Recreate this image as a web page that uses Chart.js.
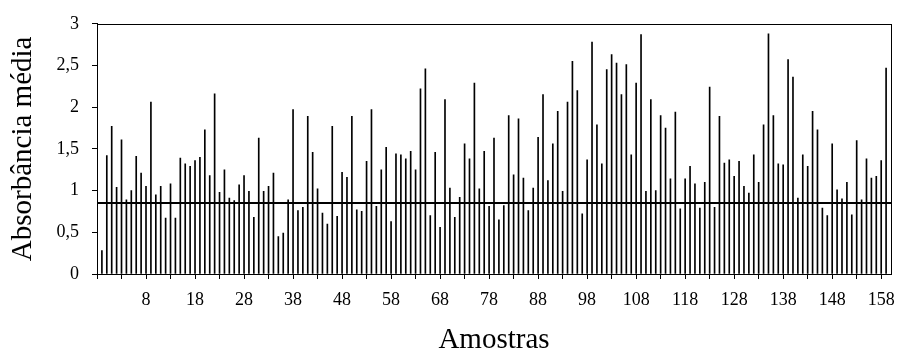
<!DOCTYPE html>
<html lang="pt">
<head>
<meta charset="utf-8">
<title>Absorbância média por amostra</title>
<script src="https://cdn.jsdelivr.net/npm/chart.js@4.4.0/dist/chart.umd.min.js"></script>
<style>
    html, body { margin: 0; padding: 0; background: #fff; }
    #grafico { display: block; }
</style>
</head>
<body>
<canvas id="grafico" width="899" height="355"></canvas>
<script>
// amostras numeradas de -1 a 159 (rótulo = posição no eixo)
const amostras = Array.from({ length: 161 }, (_, i) => i - 1);

const absorbancia = [
    0.28, 1.42, 1.77, 1.04, 1.61, 0.89, 1.00, 1.41, 1.21, 1.05,
    2.06, 0.95, 1.05, 0.67, 1.08, 0.67, 1.39, 1.32, 1.29, 1.36,
    1.40, 1.73, 1.18, 2.16, 0.98, 1.25, 0.91, 0.88, 1.07, 1.18,
    0.99, 0.68, 1.63, 0.99, 1.05, 1.21, 0.45, 0.49, 0.89, 1.97,
    0.76, 0.80, 1.89, 1.46, 1.02, 0.73, 0.60, 1.77, 0.69, 1.22,
    1.16, 1.89, 0.77, 0.75, 1.35, 1.97, 0.81, 1.25, 1.52, 0.63,
    1.44, 1.43, 1.38, 1.47, 1.25, 2.22, 2.46, 0.70, 1.46, 0.56,
    2.09, 1.03, 0.68, 0.92, 1.56, 1.38, 2.29, 1.02, 1.47, 0.81,
    1.63, 0.65, 0.82, 1.90, 1.19, 1.86, 1.15, 0.76, 1.03, 1.64,
    2.15, 1.12, 1.56, 1.95, 0.99, 2.06, 2.55, 2.20, 0.72, 1.37,
    2.78, 1.79, 1.32, 2.45, 2.63, 2.53, 2.15, 2.51, 1.43, 2.29,
    2.87, 0.99, 2.09, 1.00, 1.90, 1.75, 1.14, 1.94, 0.78, 1.14,
    1.29, 1.08, 0.79, 1.10, 2.24, 0.80, 1.89, 1.33, 1.37, 1.17,
    1.35, 1.05, 0.97, 1.43, 1.10, 1.79, 2.88, 1.90, 1.32, 1.31,
    2.57, 2.36, 0.91, 1.43, 1.29, 1.95, 1.73, 0.79, 0.70, 1.56,
    1.01, 0.90, 1.10, 0.71, 1.60, 0.89, 1.38, 1.15, 1.17, 1.36,
    2.47
];

const mediaGeral = 0.85;

const marcasX = [-2, 3, 8, 13, 18, 23, 28, 33, 38, 43, 48, 53, 58, 63, 68, 73, 78, 83,
    88, 93, 98, 103, 108, 113, 118, 123, 128, 133, 138, 143, 148, 153, 158];
const rotulosX = [8, 18, 28, 38, 48, 58, 68, 78, 88, 98, 108, 118, 128, 138, 148, 158];
const limitesX = [-2, 160];
const limitesY = [0, 3];

const fonte = 'Liberation Serif, Times New Roman, serif';

const moldura = {
    id: 'moldura',
    afterDatasetsDraw(chart) {
        const { ctx, chartArea: a } = chart;
        ctx.save();
        ctx.strokeStyle = '#000';
        ctx.lineWidth = 1;
        ctx.strokeRect(Math.round(a.left) + 0.5, Math.round(a.top) + 0.5,
            Math.round(a.right - a.left), Math.round(a.bottom - a.top));
        ctx.restore();
    }
};

new Chart(document.getElementById('grafico'), {
    data: {
        datasets: [{
            type: 'line',
            label: 'Média',
            data: limitesX.map(x => ({ x: x, y: mediaGeral })),
            borderColor: '#000',
            borderWidth: 2,
            pointRadius: 0,
            order: 0
        }, {
            type: 'bar',
            label: 'Absorbância',
            data: amostras.map((x, i) => ({ x: x, y: absorbancia[i] })),
            backgroundColor: '#000',
            borderWidth: 0,
            barThickness: 1,
            order: 1
        }]
    },
    options: {
        responsive: false,
        animation: false,
        layout: {
            padding: { top: 21, right: 8, left: 0, bottom: 0 }
        },
        plugins: {
            legend: { display: false },
            tooltip: { enabled: false }
        },
        scales: {
            x: {
                type: 'linear',
                min: limitesX[0],
                max: limitesX[1],
                offset: false,
                afterBuildTicks: scale => {
                    scale.ticks = marcasX.map(v => ({ value: v }));
                },
                afterFit: scale => {
                    scale.height = 81;
                    scale.paddingLeft = 0;
                    scale.paddingRight = 0;
                },
                ticks: {
                    autoSkip: false,
                    maxRotation: 0,
                    padding: 10,
                    color: '#000',
                    font: { family: fonte, size: 18 },
                    callback: v => rotulosX.includes(v) ? String(v) : ''
                },
                grid: {
                    offset: false,
                    drawOnChartArea: false,
                    tickLength: 5,
                    color: '#000'
                },
                border: { color: '#000', width: 1 },
                title: {
                    display: true,
                    text: 'Amostras',
                    color: '#000',
                    font: { family: fonte, size: 29, lineHeight: 1 },
                    padding: { top: 0, bottom: 0 }
                }
            },
            y: {
                min: limitesY[0],
                max: limitesY[1],
                afterFit: scale => { scale.width = 97; },
                ticks: {
                    stepSize: 0.5,
                    padding: 13,
                    color: '#000',
                    font: { family: fonte, size: 18 },
                    callback: v => String(v).replace('.', ',')
                },
                grid: {
                    drawOnChartArea: false,
                    tickLength: 5,
                    color: '#000'
                },
                border: { color: '#000', width: 1 },
                title: {
                    display: true,
                    text: 'Absorbância média',
                    color: '#000',
                    font: { family: fonte, size: 29, lineHeight: 1 },
                    padding: { top: 9, bottom: 0 }
                }
            }
        }
    },
    plugins: [moldura]
});
</script>
</body>
</html>
